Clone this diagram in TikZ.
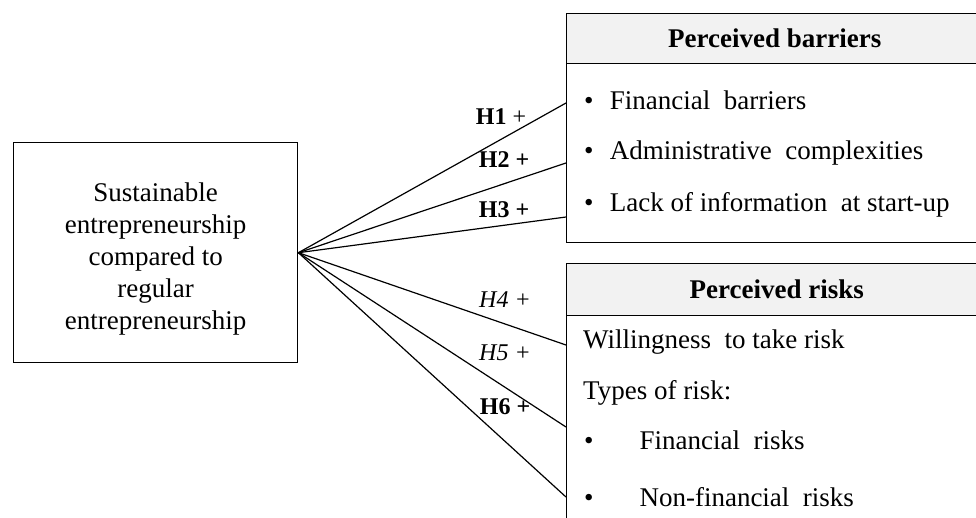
\documentclass[tikz,border=0pt]{standalone}
\usepackage{fontspec}
\setmainfont{Liberation Serif}
\usetikzlibrary{positioning}

\begin{document}
\begin{tikzpicture}[x=1pt, y=-1pt, font=\fontsize{27}{32}\selectfont,
  box/.style={draw=black, line width=1.4pt, inner sep=0pt, anchor=north west},
  head/.style={draw=black, line width=1.4pt, fill=black!5, inner sep=0pt, anchor=north west, font=\fontsize{27}{32}\selectfont\bfseries},
  item/.style={anchor=west, inner sep=0pt},
  hyp/.style={inner sep=0pt, font=\fontsize{24}{28}\selectfont},
  link/.style={line width=1.2pt}]
\useasboundingbox (0,0) rectangle (976,517);
\clip (0,0) rectangle (976,517);

\node[box, minimum width=284pt, minimum height=220pt, align=center] (sust) at (13,142) {\rule{0pt}{32pt}Sustainable\\entrepreneurship\\compared to\\regular\\entrepreneurship};

\node[box, minimum width=416pt, minimum height=229pt] (barriers) at (566,13) {};
\node[head, minimum width=416pt, minimum height=50pt] (barrierstitle) at (566,13) {Perceived barriers};
\node[item] (finbar) at (584,100) {\textbullet\hspace{0.6em}Financial\ \ barriers};
\node[item] (admin) at (584,153) {\textbullet\hspace{0.6em}Administrative\ \ complexities};
\node[item] (lack) at (584,205) {\textbullet\hspace{0.6em}Lack of information\ \ at start-up};

\node[box, minimum width=420pt, minimum height=280pt] (risks) at (566,263) {};
\node[head, minimum width=420pt, minimum height=52pt] (riskstitle) at (566,263) {Perceived risks};
\node[item] (will) at (583,342) {Willingness\ \ to take risk};
\node[item] (types) at (583,393) {Types of risk:};
\node[item] (finrisk) at (584,440) {\textbullet\hspace{1.7em}Financial\ \ risks};
\node[item] (nonfin) at (584,497) {\textbullet\hspace{1.7em}Non-financial\ \ risks};

\coordinate (h1) at (566,103);
\coordinate (h2) at (566,163);
\coordinate (h3) at (566,217);
\coordinate (h4) at (566,345);
\coordinate (h5) at (566,427);
\coordinate (h6) at (566,497);
\draw[link] (sust.east) edge (h1) edge (h2) edge (h3);
\draw[link] (sust.east) edge (h4) edge (h5) edge (h6);

\node[hyp] (l1) at (501,117) {\textbf{H1} +};
\node[hyp] (l2) at (504,160) {\textbf{H2 +}};
\node[hyp] (l3) at (504,210) {\textbf{H3 +}};
\node[hyp] (l4) at (505,300) {\textit{H4 +}};
\node[hyp] (l5) at (505,353) {\textit{H5 +}};
\node[hyp] (l6) at (505,407) {\textbf{H6 +}};
\end{tikzpicture}
\end{document}
